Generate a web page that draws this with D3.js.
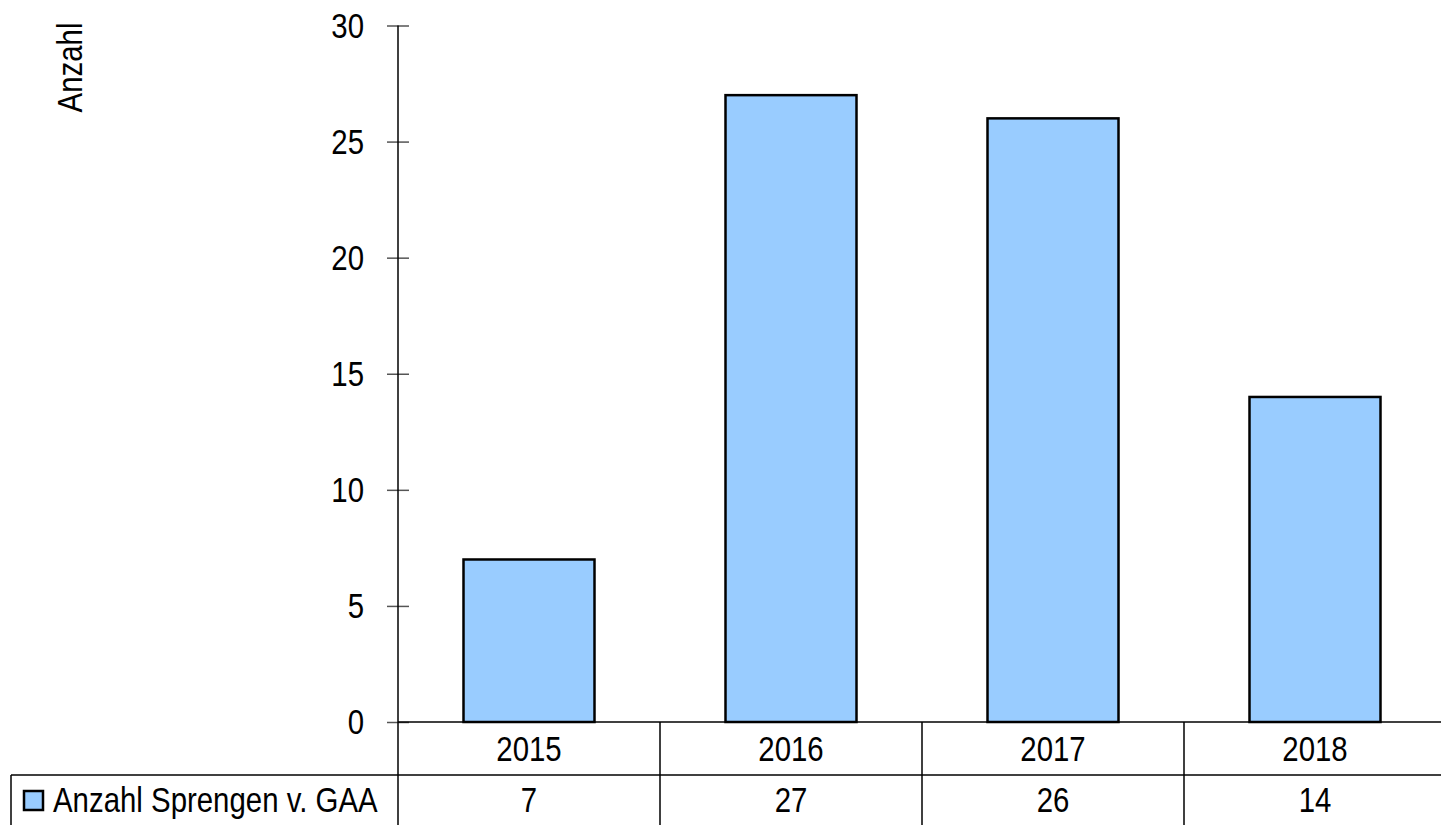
<!DOCTYPE html>
<html>
<head>
<meta charset="utf-8">
<script src="https://cdn.jsdelivr.net/npm/d3@7"></script>
<style>
  body { margin: 0; background: #fff; }
  svg text { font-family: "Liberation Sans Narrow", "Arial Narrow", "Liberation Sans", Arial, sans-serif; fill: #000; }
</style>
</head>
<body>
<div id="chart"></div>
<script>
// data
var years = ["2015", "2016", "2017", "2018"];
var counts = [7, 27, 26, 14];
var seriesName = "Anzahl Sprengen v. GAA";
var yTicks = [0, 5, 10, 15, 20, 25, 30];

var width = 1441, height = 825;
var axisX = 398, zeroY = 722, topY = 25.5;
var rowSplit = 775;
var fontSize = 35;
var squeeze = 0.84; // no narrow font installed, so squash Liberation Sans

var svg = d3.select("#chart").append("svg")
    .attr("width", width)
    .attr("height", height);

// puts a horizontally squeezed text at x,y
function narrowText(g, x, y, anchor, str) {
    return g.append("text")
        .attr("transform", "translate(" + x + "," + y + ") scale(" + squeeze + ",1)")
        .attr("text-anchor", anchor)
        .style("font-size", fontSize + "px")
        .text(str);
}

var x = d3.scaleBand()
    .domain(years)
    .range([axisX, axisX + 262 * years.length])
    .paddingInner(0.5)
    .paddingOuter(0.25);

var y = d3.scaleLinear()
    .domain([0, 30])
    .range([zeroY, topY]);

// bars
svg.append("g")
    .selectAll("rect")
    .data(years)
    .enter()
    .append("rect")
    .attr("x", function (d) { return x(d); })
    .attr("y", function (d, i) { return y(counts[i]); })
    .attr("width", x.bandwidth())
    .attr("height", function (d, i) { return y(0) - y(counts[i]); })
    .attr("fill", "#99ccff")
    .attr("stroke", "#000")
    .attr("stroke-width", 2.5);

// y axis
var yAxis = svg.append("g")
    .attr("transform", "translate(" + axisX + ",0)")
    .call(d3.axisLeft(y).tickValues(yTicks).tickSize(11).tickPadding(22));
yAxis.select(".domain").remove();
yAxis.selectAll(".tick line").attr("stroke", "#555").attr("stroke-width", 1.5);
yAxis.selectAll(".tick")
    .append("line")
    .attr("x1", 0).attr("x2", 11)
    .attr("stroke", "#555").attr("stroke-width", 1.5);
yAxis.selectAll(".tick text")
    .attr("x", null)
    .attr("dy", "0.34em")
    .attr("transform", "translate(-34,0) scale(" + squeeze + ",1)")
    .style("font-size", fontSize + "px");
yAxis.append("line")
    .attr("x1", 0).attr("x2", 0)
    .attr("y1", y(30)).attr("y2", y(0))
    .attr("stroke", "#000").attr("stroke-width", 1.5);

// y title
svg.append("text")
    .attr("transform", "translate(82,67.5) rotate(-90) scale(" + squeeze + ",1)")
    .attr("text-anchor", "middle")
    .style("font-size", fontSize + "px")
    .text("Anzahl");

// data table
var grid = svg.append("g").attr("stroke", "#000").attr("stroke-width", 1.5);
grid.append("line").attr("x1", axisX).attr("x2", width).attr("y1", zeroY).attr("y2", zeroY);
grid.append("line").attr("x1", 11).attr("x2", width).attr("y1", rowSplit).attr("y2", rowSplit);
grid.append("line").attr("x1", 11).attr("x2", 11).attr("y1", rowSplit).attr("y2", height);
var step = x.step();
grid.selectAll(".sep")
    .data(years)
    .enter()
    .append("line")
    .attr("class", "sep")
    .attr("x1", function (d) { return x(d) - x.paddingOuter() * step; })
    .attr("x2", function (d) { return x(d) - x.paddingOuter() * step; })
    .attr("y1", zeroY)
    .attr("y2", height);

var labels = svg.append("g");
years.forEach(function (d, i) {
    var cx = x(d) + x.bandwidth() / 2;
    narrowText(labels, cx, 761, "middle", d);
    narrowText(labels, cx, 812, "middle", counts[i]);
});

// legend key
svg.append("rect")
    .attr("x", 24).attr("y", 791)
    .attr("width", 19).attr("height", 19)
    .attr("fill", "#99ccff")
    .attr("stroke", "#000")
    .attr("stroke-width", 2.5);
narrowText(svg, 53, 812, "start", seriesName);
</script>
</body>
</html>
